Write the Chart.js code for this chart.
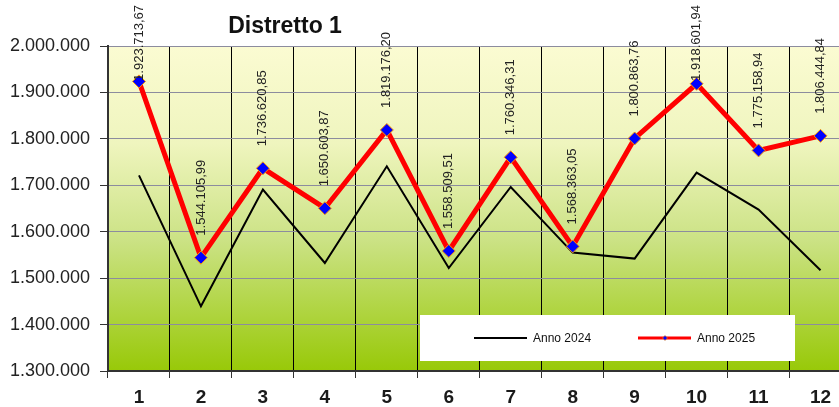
<!DOCTYPE html>
<html>
<head>
<meta charset="utf-8">
<script src="https://cdn.jsdelivr.net/npm/chart.js@4/dist/chart.umd.min.js"></script>
<style>
  html, body { margin: 0; padding: 0; background: #ffffff; overflow: hidden; width: 839px; height: 407px; }
  #wrap { position: absolute; left: 0; top: 0; width: 859px; height: 407px; }
</style>
</head>
<body>
<div id="wrap"><canvas id="c"></canvas></div>
<script>
const categories = ['1','2','3','4','5','6','7','8','9','10','11','12'];
const anno2024 = [1721500, 1439300, 1690700, 1532600, 1740900, 1521800, 1696300, 1555000, 1542100, 1727300, 1647600, 1516900];
const anno2025 = [1923713.67, 1544105.99, 1736620.85, 1650603.87, 1819176.20, 1558509.51, 1760346.31, 1568363.05, 1800863.76, 1918601.94, 1775158.94, 1806444.84];
const seriesNames = ['Anno 2024', 'Anno 2025'];
const chartTitle = 'Distretto 1';
const yMin = 1300000, yMax = 2000000, yStep = 100000;

function fmtInt(v) {
  return String(Math.round(v)).replace(/\B(?=(\d{3})+(?!\d))/g, '.');
}
function fmtDec(v) {
  const parts = v.toFixed(2).split('.');
  return parts[0].replace(/\B(?=(\d{3})+(?!\d))/g, '.') + ',' + parts[1];
}

const FONT = '"Liberation Sans", Arial, sans-serif';

const bgPlugin = {
  id: 'bgPlugin',
  beforeDraw(chart) {
    const { ctx, chartArea: a } = chart;
    const g = ctx.createLinearGradient(0, a.top, 0, a.bottom);
    g.addColorStop(0, '#FBFBD2');
    g.addColorStop(0.3, '#EFF5BE');
    g.addColorStop(0.6, '#CBE284');
    g.addColorStop(1, '#98C908');
    ctx.save();
    ctx.fillStyle = g;
    ctx.fillRect(a.left, a.top, a.right - a.left, a.bottom - a.top);
    ctx.restore();
  }
};

const overlayPlugin = {
  id: 'overlayPlugin',
  afterDatasetsDraw(chart) {
    const ctx = chart.ctx;
    const meta = chart.getDatasetMeta(0);
    ctx.save();
    ctx.font = '13px ' + FONT;
    ctx.fillStyle = '#222222';
    ctx.textAlign = 'left';
    ctx.textBaseline = 'middle';
    meta.data.forEach((pt, i) => {
      const txt = fmtDec(anno2025[i]);
      const w = ctx.measureText(txt).width;
      let start = pt.y - 22;
      if (start - w < 5) start = 5 + w;
      ctx.save();
      ctx.translate(pt.x, start);
      ctx.rotate(-Math.PI / 2);
      ctx.fillText(txt, 0, 0);
      ctx.restore();
    });
    ctx.restore();
  },
  afterDraw(chart) {
    const ctx = chart.ctx;
    ctx.save();
    ctx.font = 'bold 23px ' + FONT;
    ctx.fillStyle = '#111111';
    ctx.textAlign = 'center';
    ctx.textBaseline = 'alphabetic';
    ctx.fillText(chartTitle, 285, 33);
    ctx.fillStyle = '#ffffff';
    ctx.fillRect(420, 315, 375, 46);
    const ly = 338;
    ctx.lineWidth = 2;
    ctx.strokeStyle = '#000000';
    ctx.beginPath(); ctx.moveTo(474, ly); ctx.lineTo(527, ly); ctx.stroke();
    ctx.lineWidth = 3;
    ctx.strokeStyle = '#FF0000';
    ctx.beginPath(); ctx.moveTo(638, ly); ctx.lineTo(691, ly); ctx.stroke();
    ctx.fillStyle = '#0000FF';
    ctx.strokeStyle = '#FF9900';
    ctx.lineWidth = 0.6;
    ctx.beginPath();
    ctx.moveTo(665, ly - 2.5); ctx.lineTo(667.5, ly); ctx.lineTo(665, ly + 2.5); ctx.lineTo(662.5, ly); ctx.closePath();
    ctx.fill(); ctx.stroke();
    ctx.font = '12px ' + FONT;
    ctx.fillStyle = '#111111';
    ctx.textAlign = 'left';
    ctx.textBaseline = 'middle';
    ctx.fillText(seriesNames[0], 533, ly + 0.5);
    ctx.fillText(seriesNames[1], 697, ly + 0.5);
    ctx.restore();
  }
};

new Chart(document.getElementById('c'), {
  type: 'line',
  data: {
    labels: categories,
    datasets: [
      {
        label: seriesNames[1],
        data: anno2025,
        order: 0,
        borderColor: '#FF0000',
        borderWidth: 5,
        tension: 0,
        pointStyle: 'rectRot',
        pointRadius: 6.5,
        pointHoverRadius: 6.5,
        pointBackgroundColor: '#0000FF',
        pointBorderColor: '#FF9900',
        pointBorderWidth: 1
      },
      {
        label: seriesNames[0],
        data: anno2024,
        order: 1,
        borderColor: '#000000',
        borderWidth: 2,
        tension: 0,
        pointRadius: 0,
        pointHoverRadius: 0
      }
    ]
  },
  options: {
    responsive: true,
    maintainAspectRatio: false,
    devicePixelRatio: 1,
    animation: false,
    layout: { padding: { top: 46, left: 0, right: 0, bottom: 0 } },
    plugins: {
      legend: { display: false },
      title: { display: false },
      tooltip: { enabled: false }
    },
    scales: {
      x: {
        offset: true,
        grid: { offset: true, color: '#000000', lineWidth: 1, tickLength: 7, tickColor: '#333333', drawTicks: true },
        border: { display: true, color: '#333333', width: 2 },
        ticks: { font: { family: FONT, size: 19, weight: 'bold' }, color: '#1a1a1a', padding: 8, maxRotation: 0, autoSkip: false },
        afterFit(s) { s.height = 36; }
      },
      y: {
        min: yMin,
        max: yMax,
        grid: { color: '#8C8C9E', lineWidth: 1, tickLength: 8, tickColor: '#333333' },
        border: { display: true, color: '#333333', width: 2 },
        ticks: {
          stepSize: yStep,
          font: { family: FONT, size: 18 },
          color: '#222222',
          padding: 10,
          callback: (v) => fmtInt(v)
        },
        afterFit(s) { s.width = 108; }
      }
    }
  },
  plugins: [bgPlugin, overlayPlugin]
});
</script>
</body>
</html>
